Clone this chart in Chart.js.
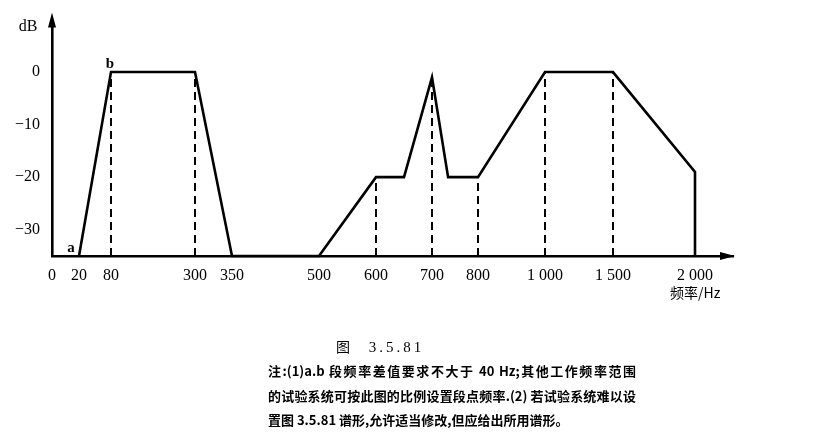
<!DOCTYPE html>
<html lang="zh">
<head>
    <meta charset="UTF-8">
    <title>图 3.5.81</title>
    <script src="https://cdn.jsdelivr.net/npm/chart.js"></script>
    <style>
        body { margin: 0; background: #fff; }
        #wrap { position: relative; width: 832px; height: 443px; overflow: hidden; }
        #chart { position: absolute; left: 0; top: 0; }
        .txt { position: absolute; font-family: "Noto Sans CJK SC", sans-serif; font-size: 13px; font-weight: bold; color: #000; white-space: nowrap; line-height: 1; }
        .just { width: 368px; text-align: justify; text-align-last: justify; }
    </style>
</head>
<body>
<div id="wrap">
    <canvas id="chart" width="832" height="443"></canvas>
    <div class="txt" style="left:336px; top:339px; font-size:14px; font-weight:normal;">图&nbsp;&nbsp;&nbsp;&nbsp;&nbsp;&nbsp;<span style="font-family:'Liberation Serif',serif; font-size:15px; letter-spacing:3px;">3.5.81</span></div>
    <div class="txt just" style="left:268px; top:364px;">注:(1)a.b 段频率差值要求不大于 40 Hz;其他工作频率范围</div>
    <div class="txt just" style="left:268px; top:389px;">的试验系统可按此图的比例设置段点频率.(2) 若试验系统难以设</div>
    <div class="txt" style="left:268px; top:413px;">置图 3.5.81 谱形,允许适当修改,但应给出所用谱形。</div>
</div>

<script>
    // axis ticks (frequency, Hz) and labels
    const tickFreqs = [0, 20, 80, 300, 350, 500, 600, 700, 800, 1000, 1500, 2000];
    const tickLabels = ['0', '20', '80', '300', '350', '500', '600', '700', '800', '1 000', '1 500', '2 000'];
    const yTicks = [0, -10, -20, -30];

    // spectrum outline
    const curveFreq = [20, 80, 300, 350, 500, 600, 650, 700, 735, 800, 1000, 1500, 2000, 2000];
    const curveDb = [-35, 0, 0, -35, -35, -20, -20, -1, -20, -20, 0, 0, -19, -35];

    // dashed break-point markers
    const dashFreq = [80, 300, 600, 700, 800, 1000, 1500];
    const dashTopDb = [0, 0, -20, -1, -20, 0, 0];

    // the frequency axis is not to scale: where each tick sits along it (px from origin)
    const axisFreq = [0, 20, 80, 300, 350, 500, 600, 700, 800, 1000, 1500, 2000, 2200];
    const axisPos = [0, 27, 59, 143, 180, 267, 324, 380, 426, 493, 561, 643, 681];

    class BreakScale extends Chart.LinearScale {
        buildTicks() {
            return tickFreqs.map(v => ({ value: v }));
        }
        getPixelForValue(v) {
            let i = 0;
            while (i < axisFreq.length - 2 && v > axisFreq[i + 1]) i++;
            const f0 = axisFreq[i], f1 = axisFreq[i + 1];
            const p = axisPos[i] + (v - f0) / (f1 - f0) * (axisPos[i + 1] - axisPos[i]);
            return this.getPixelForDecimal(p / axisPos[axisPos.length - 1]);
        }
        getValueForPixel(px) {
            const p = this.getDecimalForPixel(px) * axisPos[axisPos.length - 1];
            let i = 0;
            while (i < axisPos.length - 2 && p > axisPos[i + 1]) i++;
            return axisFreq[i] + (p - axisPos[i]) / (axisPos[i + 1] - axisPos[i]) * (axisFreq[i + 1] - axisFreq[i]);
        }
    }
    BreakScale.id = 'breakaxis';
    BreakScale.defaults = Chart.LinearScale.defaults;
    Chart.register(BreakScale);

    const curve = curveFreq.map((f, i) => ({ x: f, y: curveDb[i] }));
    const dashes = [];
    dashFreq.forEach((f, i) => {
        dashes.push({ x: f, y: -35 }, { x: f, y: dashTopDb[i] }, { x: f, y: null });
    });

    const serif = "'Liberation Serif', 'DejaVu Serif', serif";

    const decor = {
        id: 'decor',
        afterDraw(chart) {
            const { ctx, chartArea: a, scales: { x, y } } = chart;
            ctx.save();
            ctx.fillStyle = '#000';
            // arrow heads
            ctx.beginPath();
            ctx.moveTo(a.left, a.top - 9);
            ctx.lineTo(a.left - 4, a.top + 6);
            ctx.lineTo(a.left + 4, a.top + 6);
            ctx.closePath();
            ctx.fill();
            ctx.beginPath();
            ctx.moveTo(a.right + 2, a.bottom);
            ctx.lineTo(a.right - 13, a.bottom - 4);
            ctx.lineTo(a.right - 13, a.bottom + 4);
            ctx.closePath();
            ctx.fill();

            ctx.font = "bold 15px " + serif;
            ctx.textBaseline = 'middle';
            ctx.textAlign = 'center';
            ctx.fillText('a', x.getPixelForValue(20) - 8, y.getPixelForValue(-35) - 8);
            ctx.fillText('b', x.getPixelForValue(80) - 1, y.getPixelForValue(0) - 8);
            ctx.font = "16px " + serif;
            ctx.fillText('dB', a.left - 24, 27);
            ctx.font = "14px 'Noto Sans CJK SC', sans-serif";
            ctx.textAlign = 'left';
            ctx.fillText('频率/Hz', 670, 293);
            ctx.restore();
        }
    };

    new Chart(document.getElementById('chart').getContext('2d'), {
        type: 'line',
        data: {
            datasets: [
                {
                    data: curve,
                    borderColor: '#000',
                    borderWidth: 2.6,
                    pointRadius: 0,
                    tension: 0,
                    clip: 6
                },
                {
                    data: dashes,
                    borderColor: '#000',
                    borderWidth: 2,
                    borderDash: [8, 5],
                    pointRadius: 0,
                    spanGaps: false,
                    clip: 6
                }
            ]
        },
        options: {
            responsive: false,
            animation: false,
            events: [],
            layout: { padding: { left: 0, top: 0, right: 99, bottom: 0 } },
            plugins: { legend: { display: false }, tooltip: { enabled: false } },
            scales: {
                x: {
                    type: 'breakaxis',
                    min: 0,
                    max: 2200,
                    grid: { display: false, drawTicks: false },
                    border: { display: true, color: '#000', width: 2.6 },
                    afterFit(s) { s.height = 187; },
                    ticks: {
                        autoSkip: false,
                        maxRotation: 0,
                        padding: 10,
                        color: '#000',
                        font: { family: serif, size: 16 },
                        callback: (v, i) => tickLabels[i]
                    }
                },
                y: {
                    type: 'linear',
                    min: -35,
                    max: 9.6,
                    grid: { display: false, drawTicks: false },
                    border: { display: true, color: '#000', width: 2.6 },
                    afterFit(s) { s.width = 52; },
                    afterBuildTicks(s) { s.ticks = yTicks.map(v => ({ value: v })); },
                    ticks: {
                        padding: 12,
                        color: '#000',
                        font: { family: serif, size: 16 },
                        callback: v => v === 0 ? '0' : '\u2212' + Math.abs(v)
                    }
                }
            }
        },
        plugins: [decor]
    });
</script>
</body>
</html>
